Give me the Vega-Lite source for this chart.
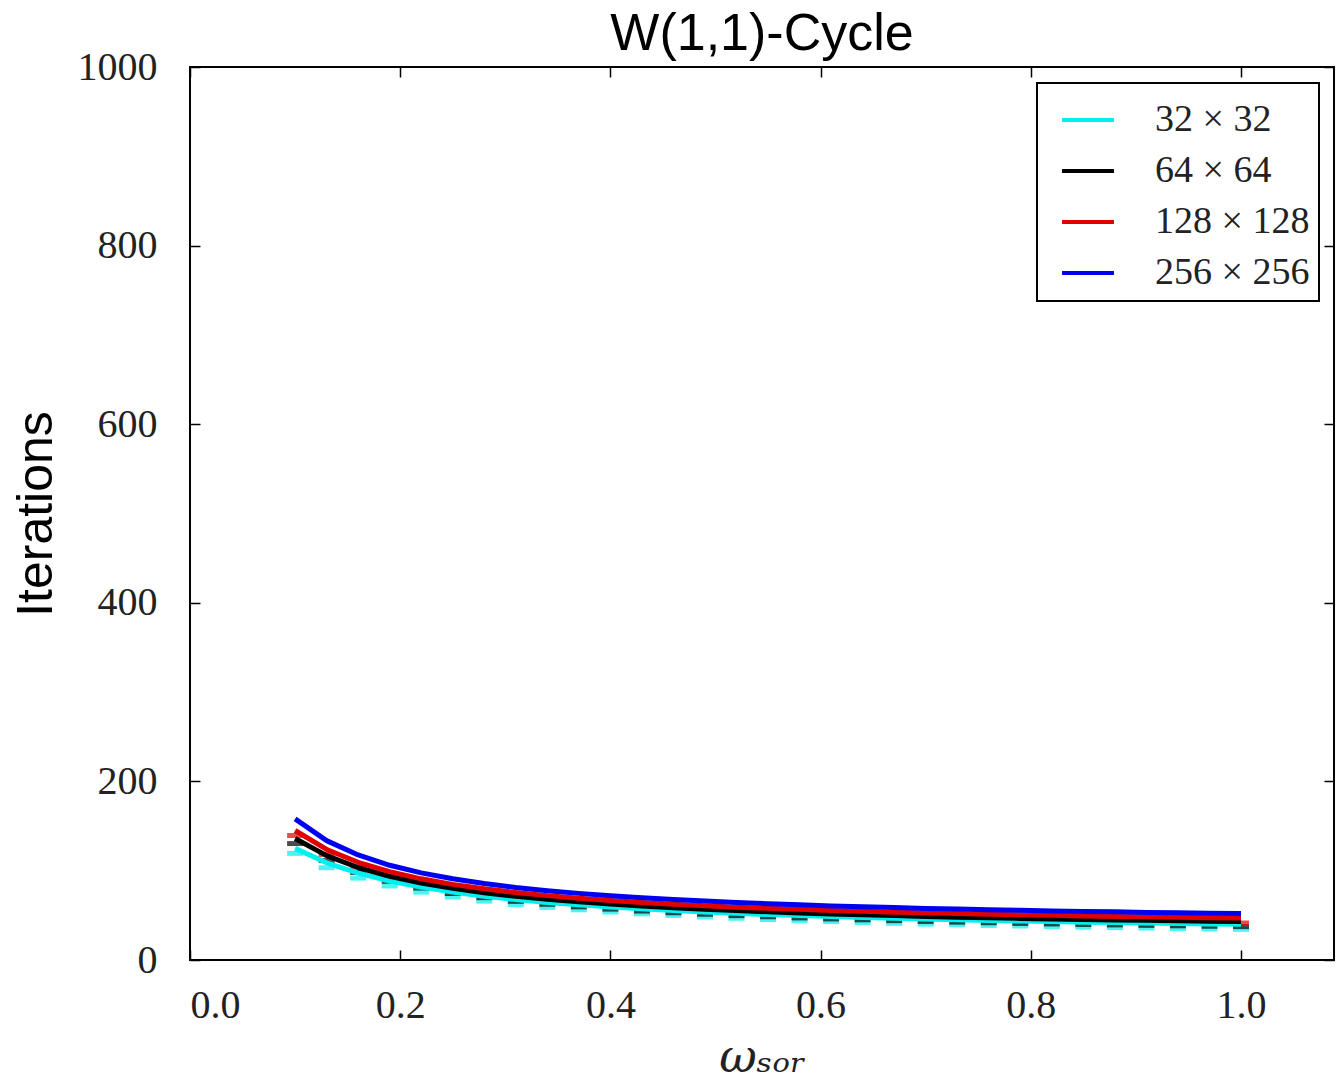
{
  "$schema": "https://vega.github.io/schema/vega-lite/v6.json",
  "width": 1144,
  "height": 893,
  "autosize": {"type": "none"},
  "padding": {"left": 190, "top": 67, "right": 2, "bottom": 129},
  "background": "white",
  "title": {"text": "W(1,1)-Cycle", "font": "Liberation Sans", "fontSize": 52, "fontWeight": "normal", "color": "black", "anchor": "middle", "offset": -14},
  "config": {
    "view": {"stroke": "black", "strokeWidth": 2},
    "axis": {"domain": false, "grid": false, "tickColor": "black", "tickWidth": 1.5}
  },
  "datasets": {
    "runs": [
      {"omega":0.10,"iterations":125.0,"grid":"32 × 32"},{"omega":0.13,"iterations":108.9,"grid":"32 × 32"},{"omega":0.16,"iterations":97.3,"grid":"32 × 32"},{"omega":0.19,"iterations":88.5,"grid":"32 × 32"},{"omega":0.22,"iterations":81.6,"grid":"32 × 32"},{"omega":0.25,"iterations":76.1,"grid":"32 × 32"},{"omega":0.28,"iterations":71.5,"grid":"32 × 32"},{"omega":0.31,"iterations":67.7,"grid":"32 × 32"},{"omega":0.34,"iterations":64.5,"grid":"32 × 32"},{"omega":0.37,"iterations":61.8,"grid":"32 × 32"},{"omega":0.40,"iterations":59.4,"grid":"32 × 32"},{"omega":0.43,"iterations":57.3,"grid":"32 × 32"},{"omega":0.46,"iterations":55.4,"grid":"32 × 32"},{"omega":0.49,"iterations":53.7,"grid":"32 × 32"},{"omega":0.52,"iterations":52.3,"grid":"32 × 32"},{"omega":0.55,"iterations":50.9,"grid":"32 × 32"},{"omega":0.58,"iterations":49.7,"grid":"32 × 32"},{"omega":0.61,"iterations":48.6,"grid":"32 × 32"},{"omega":0.64,"iterations":47.6,"grid":"32 × 32"},{"omega":0.67,"iterations":46.7,"grid":"32 × 32"},{"omega":0.70,"iterations":45.8,"grid":"32 × 32"},{"omega":0.73,"iterations":45.1,"grid":"32 × 32"},{"omega":0.76,"iterations":44.3,"grid":"32 × 32"},{"omega":0.79,"iterations":43.7,"grid":"32 × 32"},{"omega":0.82,"iterations":43.0,"grid":"32 × 32"},{"omega":0.85,"iterations":42.4,"grid":"32 × 32"},{"omega":0.88,"iterations":41.9,"grid":"32 × 32"},{"omega":0.91,"iterations":41.4,"grid":"32 × 32"},{"omega":0.94,"iterations":40.9,"grid":"32 × 32"},{"omega":0.97,"iterations":40.4,"grid":"32 × 32"},{"omega":1.00,"iterations":40.0,"grid":"32 × 32"},
      {"omega":0.10,"iterations":136.0,"grid":"64 × 64"},{"omega":0.13,"iterations":116.9,"grid":"64 × 64"},{"omega":0.16,"iterations":103.6,"grid":"64 × 64"},{"omega":0.19,"iterations":93.7,"grid":"64 × 64"},{"omega":0.22,"iterations":86.2,"grid":"64 × 64"},{"omega":0.25,"iterations":80.2,"grid":"64 × 64"},{"omega":0.28,"iterations":75.4,"grid":"64 × 64"},{"omega":0.31,"iterations":71.3,"grid":"64 × 64"},{"omega":0.34,"iterations":68.0,"grid":"64 × 64"},{"omega":0.37,"iterations":65.1,"grid":"64 × 64"},{"omega":0.40,"iterations":62.6,"grid":"64 × 64"},{"omega":0.43,"iterations":60.4,"grid":"64 × 64"},{"omega":0.46,"iterations":58.5,"grid":"64 × 64"},{"omega":0.49,"iterations":56.8,"grid":"64 × 64"},{"omega":0.52,"iterations":55.3,"grid":"64 × 64"},{"omega":0.55,"iterations":54.0,"grid":"64 × 64"},{"omega":0.58,"iterations":52.7,"grid":"64 × 64"},{"omega":0.61,"iterations":51.6,"grid":"64 × 64"},{"omega":0.64,"iterations":50.6,"grid":"64 × 64"},{"omega":0.67,"iterations":49.7,"grid":"64 × 64"},{"omega":0.70,"iterations":48.8,"grid":"64 × 64"},{"omega":0.73,"iterations":48.0,"grid":"64 × 64"},{"omega":0.76,"iterations":47.3,"grid":"64 × 64"},{"omega":0.79,"iterations":46.6,"grid":"64 × 64"},{"omega":0.82,"iterations":46.0,"grid":"64 × 64"},{"omega":0.85,"iterations":45.4,"grid":"64 × 64"},{"omega":0.88,"iterations":44.9,"grid":"64 × 64"},{"omega":0.91,"iterations":44.4,"grid":"64 × 64"},{"omega":0.94,"iterations":43.9,"grid":"64 × 64"},{"omega":0.97,"iterations":43.4,"grid":"64 × 64"},{"omega":1.00,"iterations":43.0,"grid":"64 × 64"},
      {"omega":0.10,"iterations":145.0,"grid":"128 × 128"},{"omega":0.13,"iterations":123.8,"grid":"128 × 128"},{"omega":0.16,"iterations":109.4,"grid":"128 × 128"},{"omega":0.19,"iterations":98.9,"grid":"128 × 128"},{"omega":0.22,"iterations":90.9,"grid":"128 × 128"},{"omega":0.25,"iterations":84.7,"grid":"128 × 128"},{"omega":0.28,"iterations":79.7,"grid":"128 × 128"},{"omega":0.31,"iterations":75.5,"grid":"128 × 128"},{"omega":0.34,"iterations":72.1,"grid":"128 × 128"},{"omega":0.37,"iterations":69.1,"grid":"128 × 128"},{"omega":0.40,"iterations":66.6,"grid":"128 × 128"},{"omega":0.43,"iterations":64.4,"grid":"128 × 128"},{"omega":0.46,"iterations":62.5,"grid":"128 × 128"},{"omega":0.49,"iterations":60.8,"grid":"128 × 128"},{"omega":0.52,"iterations":59.2,"grid":"128 × 128"},{"omega":0.55,"iterations":57.9,"grid":"128 × 128"},{"omega":0.58,"iterations":56.7,"grid":"128 × 128"},{"omega":0.61,"iterations":55.5,"grid":"128 × 128"},{"omega":0.64,"iterations":54.5,"grid":"128 × 128"},{"omega":0.67,"iterations":53.6,"grid":"128 × 128"},{"omega":0.70,"iterations":52.8,"grid":"128 × 128"},{"omega":0.73,"iterations":52.0,"grid":"128 × 128"},{"omega":0.76,"iterations":51.3,"grid":"128 × 128"},{"omega":0.79,"iterations":50.6,"grid":"128 × 128"},{"omega":0.82,"iterations":50.0,"grid":"128 × 128"},{"omega":0.85,"iterations":49.4,"grid":"128 × 128"},{"omega":0.88,"iterations":48.8,"grid":"128 × 128"},{"omega":0.91,"iterations":48.3,"grid":"128 × 128"},{"omega":0.94,"iterations":47.9,"grid":"128 × 128"},{"omega":0.97,"iterations":47.4,"grid":"128 × 128"},{"omega":1.00,"iterations":47.0,"grid":"128 × 128"},
      {"omega":0.10,"iterations":158.0,"grid":"256 × 256"},{"omega":0.13,"iterations":133.7,"grid":"256 × 256"},{"omega":0.16,"iterations":117.6,"grid":"256 × 256"},{"omega":0.19,"iterations":106.1,"grid":"256 × 256"},{"omega":0.22,"iterations":97.6,"grid":"256 × 256"},{"omega":0.25,"iterations":90.9,"grid":"256 × 256"},{"omega":0.28,"iterations":85.6,"grid":"256 × 256"},{"omega":0.31,"iterations":81.2,"grid":"256 × 256"},{"omega":0.34,"iterations":77.6,"grid":"256 × 256"},{"omega":0.37,"iterations":74.6,"grid":"256 × 256"},{"omega":0.40,"iterations":72.0,"grid":"256 × 256"},{"omega":0.43,"iterations":69.7,"grid":"256 × 256"},{"omega":0.46,"iterations":67.7,"grid":"256 × 256"},{"omega":0.49,"iterations":66.0,"grid":"256 × 256"},{"omega":0.52,"iterations":64.4,"grid":"256 × 256"},{"omega":0.55,"iterations":63.0,"grid":"256 × 256"},{"omega":0.58,"iterations":61.8,"grid":"256 × 256"},{"omega":0.61,"iterations":60.6,"grid":"256 × 256"},{"omega":0.64,"iterations":59.6,"grid":"256 × 256"},{"omega":0.67,"iterations":58.7,"grid":"256 × 256"},{"omega":0.70,"iterations":57.8,"grid":"256 × 256"},{"omega":0.73,"iterations":57.0,"grid":"256 × 256"},{"omega":0.76,"iterations":56.3,"grid":"256 × 256"},{"omega":0.79,"iterations":55.6,"grid":"256 × 256"},{"omega":0.82,"iterations":55.0,"grid":"256 × 256"},{"omega":0.85,"iterations":54.4,"grid":"256 × 256"},{"omega":0.88,"iterations":53.9,"grid":"256 × 256"},{"omega":0.91,"iterations":53.3,"grid":"256 × 256"},{"omega":0.94,"iterations":52.9,"grid":"256 × 256"},{"omega":0.97,"iterations":52.4,"grid":"256 × 256"},{"omega":1.00,"iterations":52.0,"grid":"256 × 256"}
    ]
  },
  "data": {"name": "runs"},
  "layer": [
    {
      "transform": [{"filter": {"field": "grid", "oneOf": ["32 × 32", "64 × 64", "128 × 128"]}}],
      "mark": {"type": "tick", "orient": "horizontal", "size": 16, "thickness": 5, "yOffset": 5},
      "encoding": {
        "x": {"field": "omega", "type": "quantitative", "scale": {"domain": [0, 1.0885], "nice": false, "zero": false},
              "axis": {"orient": "top", "labels": false, "title": null, "values": [0, 0.2, 0.4, 0.6, 0.8, 1.0], "tickSize": -10}},
        "y": {"field": "iterations", "type": "quantitative", "scale": {"domain": [0, 1000], "nice": false},
              "axis": {"orient": "right", "labels": false, "title": null, "values": [0, 200, 400, 600, 800, 1000], "tickSize": -10}},
        "color": {"field": "grid", "type": "nominal",
                  "scale": {"domain": ["32 × 32", "64 × 64", "128 × 128", "256 × 256"], "range": ["#00F0F0", "#000000", "#E00000", "#0000F0"]}}
      }
    },
    {
      "mark": {"type": "line", "strokeWidth": 5, "strokeJoin": "round"},
      "encoding": {
        "x": {"field": "omega", "type": "quantitative", "scale": {"domain": [0, 1.0885], "nice": false, "zero": false},
              "axis": {"orient": "bottom", "values": [0, 0.2, 0.4, 0.6, 0.8, 1.0], "format": ".1f", "tickSize": -10,
                       "labelFont": "Liberation Serif", "labelFontSize": 40, "labelColor": "#222", "labelPadding": 35,
                       "title": "ωₛₒᵣ", "titleFont": "DejaVu Serif", "titleFontSize": 46, "titleFontWeight": "normal", "titleFontStyle": "italic", "titleColor": "#222", "titlePadding": 10}},
        "y": {"field": "iterations", "type": "quantitative", "scale": {"domain": [0, 1000], "nice": false},
              "axis": {"orient": "left", "values": [0, 200, 400, 600, 800, 1000], "format": "d", "tickSize": -10,
                       "labelFont": "Liberation Serif", "labelFontSize": 40, "labelColor": "#222", "labelPadding": 43,
                       "title": "Iterations", "titleFont": "Liberation Sans", "titleFontSize": 50, "titleFontWeight": "normal", "titleColor": "black", "titlePadding": 16}},
        "color": {"field": "grid", "type": "nominal",
                  "scale": {"domain": ["32 × 32", "64 × 64", "128 × 128", "256 × 256"], "range": ["#00F0F0", "#000000", "#E00000", "#0000F0"]},
                  "legend": {"title": null, "orient": "none", "legendX": 847, "legendY": 16, "symbolType": "stroke", "symbolSize": 2700, "symbolStrokeWidth": 4, "symbolOffset": 14,
                             "labelFont": "Liberation Serif", "labelFontSize": 38, "labelColor": "#222", "labelOffset": 39, "rowPadding": 4,
                             "padding": 9, "strokeColor": "black", "fillColor": "white", "cornerRadius": 0, "labelLimit": 400,
                             "encode": {"legend": {"update": {"strokeWidth": {"value": 2}}}}}}
      }
    }
  ],
  "resolve": {"scale": {"x": "independent", "y": "independent"}, "axis": {"x": "independent", "y": "independent"}}
}
